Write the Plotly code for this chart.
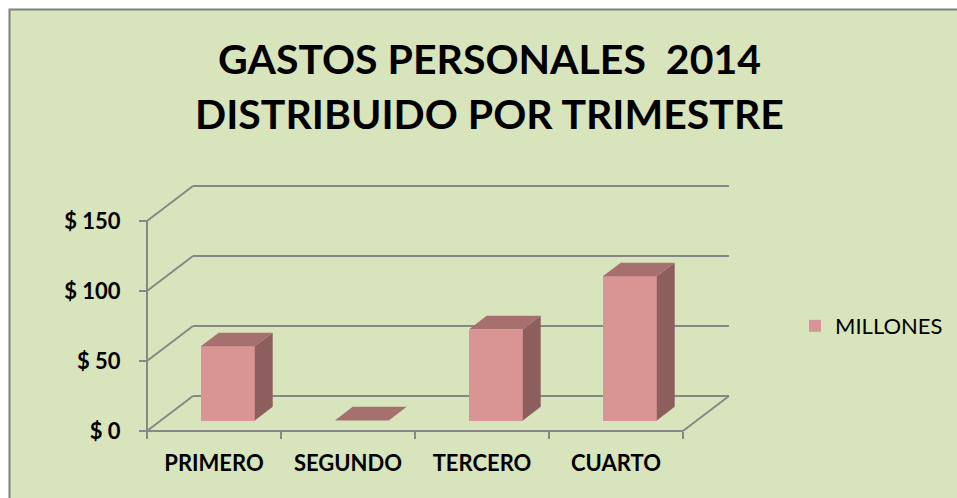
import plotly.graph_objects as go

# ---- data ----
categories = ["PRIMERO", "SEGUNDO", "TERCERO", "CUARTO"]
millones = [53, 0, 65, 103]
y_ticks = [0, 50, 100, 150]
y_tick_labels = ["$ 0", "$ 50", "$ 100", "$ 150"]
series_name = "MILLONES"
title_lines = ["GASTOS PERSONALES  2014", "DISTRIBUIDO POR TRIMESTRE"]

# ---- style / layout constants ----
W, H = 957, 498
FONT = "Lato"
BG = "#D8E4BC"
GRID = "#878787"
FRONT = "#D99594"
TOP = "#A6706F"
SIDE = "#8C5E5E"

# pixel calibration of the (pseudo-3D) axes
PX_CAT0 = 214.0       # pixel x of first category center
PX_PER_CAT = 134.0
PX_ZERO = 431.0       # pixel y of value 0 (front)
PX_PER_UNIT = 1.4
DEPTH_X = 0.343       # back wall offset in category units
DEPTH_Y = 25.0        # back wall offset in value units
F0, F1 = 0.30, 0.69   # bar depth fractions (front, back)
BAR_W = 0.403

x_range = [(0 - PX_CAT0) / PX_PER_CAT, (W - PX_CAT0) / PX_PER_CAT]
y_range = [(PX_ZERO - H) / PX_PER_UNIT, PX_ZERO / PX_PER_UNIT]

n = len(categories)
x_left, x_right = -0.5, n - 0.5

fig = go.Figure()

# front faces (bars)
bar_x = [i + F0 * DEPTH_X for i in range(n)]
bar_base = F0 * DEPTH_Y
fig.add_trace(go.Bar(
    x=bar_x, y=millones, base=[bar_base] * n, width=BAR_W,
    marker=dict(color=FRONT, line=dict(width=0)),
    name=series_name, showlegend=True, hoverinfo="skip",
))

ddx = (F1 - F0) * DEPTH_X
ddy = (F1 - F0) * DEPTH_Y
for i, v in enumerate(millones):
    x0 = bar_x[i] - BAR_W / 2
    x1 = bar_x[i] + BAR_W / 2
    top = bar_base + v
    # side face
    if v > 0:
        fig.add_trace(go.Scatter(
            x=[x1, x1, x1 + ddx, x1 + ddx, x1],
            y=[bar_base, top, top + ddy, bar_base + ddy, bar_base],
            fill="toself", fillcolor=SIDE, mode="lines", line=dict(width=0),
            showlegend=False, hoverinfo="skip"))
    # top face
    fig.add_trace(go.Scatter(
        x=[x0, x1, x1 + ddx, x0 + ddx, x0],
        y=[top, top, top + ddy, top + ddy, top],
        fill="toself", fillcolor=TOP, mode="lines", line=dict(width=0),
        showlegend=False, hoverinfo="skip"))

shapes = []
# chart area background with border (top/left visible)
shapes.append(dict(type="rect", xref="paper", yref="paper",
                   x0=9.5 / W, x1=1.2, y0=-0.2, y1=1 - 9.5 / H,
                   fillcolor=BG, line=dict(color="#7F7F7F", width=2), layer="below"))
# back wall gridlines + side wall diagonals
for t in y_ticks:
    shapes.append(dict(type="line", xref="x", yref="y", x0=x_left, y0=t,
                       x1=x_left + DEPTH_X, y1=t + DEPTH_Y,
                       line=dict(color=GRID, width=2), layer="below"))
    shapes.append(dict(type="line", xref="x", yref="y", x0=x_left + DEPTH_X, y0=t + DEPTH_Y,
                       x1=x_right + DEPTH_X, y1=t + DEPTH_Y,
                       line=dict(color=GRID, width=2), layer="below"))
# front floor edge, right floor edge, front vertical axis
shapes.append(dict(type="line", xref="x", yref="y", x0=x_left, y0=0, x1=x_right, y1=0,
                   line=dict(color=GRID, width=2), layer="below"))
shapes.append(dict(type="line", xref="x", yref="y", x0=x_right, y0=0,
                   x1=x_right + DEPTH_X, y1=DEPTH_Y,
                   line=dict(color=GRID, width=2), layer="below"))
shapes.append(dict(type="line", xref="x", yref="y", x0=x_left, y0=0, x1=x_left, y1=max(y_ticks),
                   line=dict(color=GRID, width=2), layer="below"))

annotations = []
title_y_px = [58, 114]
for line, ypx in zip(title_lines, title_y_px):
    annotations.append(dict(text="<b>%s</b>" % line, xref="paper", yref="paper",
                            x=490 / W, y=1 - ypx / H, xanchor="center", yanchor="middle",
                            showarrow=False, font=dict(family=FONT, size=41, color="black")))

fig.update_layout(
    width=W, height=H,
    margin=dict(l=0, r=0, t=0, b=0),
    paper_bgcolor="white", plot_bgcolor="rgba(0,0,0,0)",
    shapes=shapes, annotations=annotations,
    bargap=0,
    xaxis=dict(range=x_range, domain=[0, 1], anchor="free", position=(H - PX_ZERO) / H,
               tickmode="array", tickvals=list(range(n)), ticktext=categories,
               ticks="", showgrid=False, zeroline=False, showline=False,
               tickfont=dict(family=FONT, size=22, color="black", weight="bold"),
               ticklabelstandoff=17,
               minor=dict(tickmode="array", tickvals=[i - 0.5 for i in range(n + 1)],
                          ticks="outside", ticklen=7, tickwidth=2, tickcolor=GRID,
                          showgrid=False),
               fixedrange=True),
    yaxis=dict(range=y_range, domain=[0, 1], anchor="free",
               position=(PX_CAT0 - 0.5 * PX_PER_CAT) / W,
               tickmode="array", tickvals=y_ticks, ticktext=y_tick_labels,
               ticks="outside", ticklen=8, tickwidth=2, tickcolor=GRID,
               showgrid=False, zeroline=False, showline=False,
               tickfont=dict(family=FONT, size=22, color="black", weight="bold"),
               ticklabelstandoff=14, fixedrange=True),
    legend=dict(x=795 / W, y=1 - 326 / H, xanchor="left", yanchor="middle",
                bgcolor="rgba(0,0,0,0)", font=dict(family=FONT, size=22, color="black")),
    showlegend=True,
)

fig.write_html("out.html", config={"displayModeBar": False},
               post_script="document.body.style.margin='0';document.body.style.overflow='hidden';")
